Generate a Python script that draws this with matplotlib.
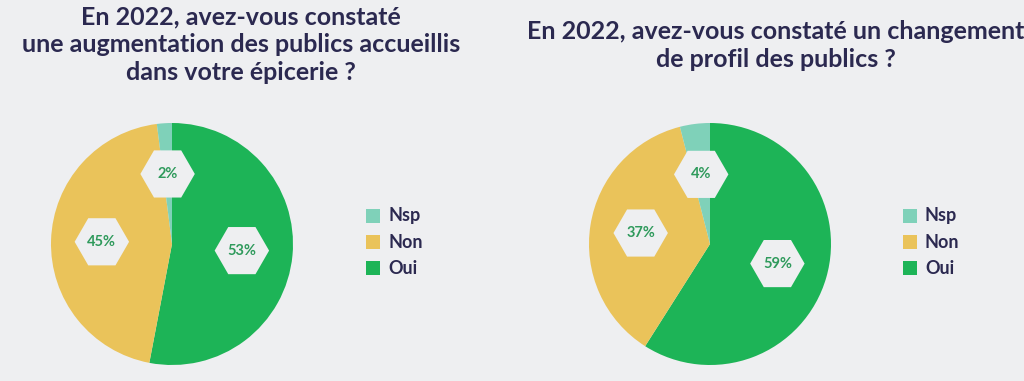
import numpy as np
import matplotlib
matplotlib.use("Agg")
import matplotlib.pyplot as plt
from matplotlib.patches import RegularPolygon, Rectangle

plt.rcParams['font.family'] = ['Lato', 'DejaVu Sans']

labels = ["Oui", "Non", "Nsp"]
augmentation = [53, 45, 2]
changement = [59, 37, 4]
titles = [
    "En 2022, avez-vous constaté\nune augmentation des publics accueillis\ndans votre épicerie ?",
    "En 2022, avez-vous constaté un changement\nde profil des publics ?",
]
colors = {"Oui": "#1db457", "Non": "#eac35a", "Nsp": "#7fd1b9"}
bg = "#eeeff1"
navy = "#2b2950"
label_green = "#2f9a5c"

W, H = 1024, 381
fig = plt.figure(figsize=(W / 100, H / 100), dpi=100, facecolor=bg)


def draw_pie(values, cx, cy, r, title, title_x, title_y, legend_x):
    ax = fig.add_axes([(cx - r) / W, (H - cy - r) / H, 2 * r / W, 2 * r / H])
    ax.set_facecolor(bg)
    wedges, _ = ax.pie(values, colors=[colors[l] for l in labels],
                       startangle=90, counterclock=False, radius=1,
                       wedgeprops=dict(linewidth=0))
    ax.set_xlim(-1, 1)
    ax.set_ylim(-1, 1)
    ax.set_aspect('equal')
    ax.axis('off')
    for w, v in zip(wedges, values):
        mid = np.deg2rad((w.theta1 + w.theta2) / 2)
        x, y = 0.58 * np.cos(mid), 0.58 * np.sin(mid)
        ax.add_patch(RegularPolygon((x, y), numVertices=6, radius=0.225,
                                    orientation=np.pi / 6, facecolor=bg,
                                    edgecolor='none', zorder=3))
        ax.text(x, y, f"{v}%", ha='center', va='center', fontsize=10.5,
                fontweight='bold', color=label_green, zorder=4)

    fig.text(title_x / W, 1 - title_y / H, title, ha='center', va='top',
             fontsize=18, fontweight='bold', color=navy, linespacing=1.25)

    # legend: Nsp, Non, Oui from top
    for i, lab in enumerate(labels[::-1]):
        yy = 216 + 26 * i
        fig.patches.append(Rectangle(((legend_x) / W, 1 - (yy + 7) / H), 14 / W, 14 / H,
                                     transform=fig.transFigure, facecolor=colors[lab],
                                     edgecolor='none'))
        fig.text((legend_x + 22) / W, 1 - yy / H, lab, ha='left', va='center',
                 fontsize=13, fontweight='bold', color=navy)


draw_pie(augmentation, 172, 244, 121, titles[0], 241, 5, 366)
draw_pie(changement, 710, 244, 121, titles[1], 776, 20, 903)

fig.savefig("out.png", dpi=100, facecolor=bg)
